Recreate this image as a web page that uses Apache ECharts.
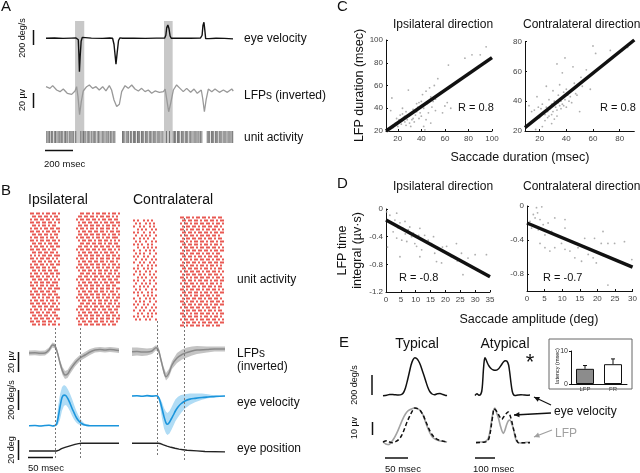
<!DOCTYPE html>
<html>
<head>
<meta charset="utf-8">
<script src="https://cdn.jsdelivr.net/npm/echarts@6/dist/echarts.min.js"></script>
<style>html,body{margin:0;padding:0;background:#fff}#main{width:640px;height:473px}</style>
</head>
<body>
<div id="main"></div>
<script>
// ---- panel A: single trial, t in msec ----
var aVel = [[0,0],[60,3],[120,-2],[180,2],[212,4],[222,30],[228,-20],[232,-200],[236,-445],[241,-250],[248,-40],[256,12],[264,0],[320,2],[400,-2],[450,3],[462,21],[470,0],[480,-80],[488,-230],[494,-347],[502,-200],[512,-30],[522,5],[540,0],[620,2],[700,-1],[780,2],[838,3],[846,40],[852,140],[860,177],[868,130],[876,30],[884,0],[950,2],[1020,0],[1090,3],[1102,40],[1108,170],[1115,213],[1121,110],[1127,-5],[1135,-20],[1150,-5],[1200,0],[1260,-2],[1320,-8]];
var aLfp = [[0,4.4],[28,2.2],[47,5.8],[75,0],[99,-2.2],[122,1.3],[150,-4.4],[181,-5.8],[205,-1.3],[216,4.4],[226,-8.9],[237,-33],[249,-15.6],[263,-1.3],[287,4.4],[306,6.7],[329,2.2],[353,4.4],[376,0],[400,4.4],[423,-1.3],[447,5.8],[463,0],[480,-13.3],[499,-22],[518,-19],[534,-2.2],[558,5.8],[581,2.2],[605,6.7],[628,1.3],[652,-1.3],[675,2.2],[699,-2.2],[722,0],[746,-4.4],[770,-1.3],[800,-3.1],[829,-2.2],[841,1.3],[853,-13.3],[866,-29],[880,-17.8],[899,0],[922,6.7],[946,2.2],[969,-2.2],[993,2.2],[1021,-3.1],[1045,1.3],[1068,-4.4],[1096,0],[1106,-11],[1118,-29],[1130,-13.3],[1146,1.3],[1170,-2.2],[1193,1.3],[1224,-3.1],[1252,0],[1280,-3.1],[1311,1.3],[1322,-1.3]];
var aUnit = [5,14,22,27,38,45,58,66,71,84,92,99,108,115,128,136,141,150,163,170,178,189,196,210,246,262,268,277,290,298,305,318,325,337,344,352,366,372,381,395,402,410,423,431,440,452,458,466,478,486,540,548,557,570,578,584,597,605,618,625,633,646,652,661,674,682,690,703,711,719,732,739,748,760,768,776,789,797,805,818,826,850,872,898,907,915,928,935,944,957,965,973,986,993,1001,1015,1022,1031,1044,1052,1060,1072,1080,1090,1100,1138,1146,1155,1168,1176,1184,1197,1205,1213,1226,1234,1242,1255,1263,1271,1284,1292,1300,1312,1318];
var aShade = [[205,270],[833,894]];

// ---- panel B: averages, t from saccade onset; rows [t, mean, lo, hi] ----
var bIpsiRasterL = ["110110101101101","011011011010110","101101101101011","110110110110101","011010110101100","101101011011011","110110101101101","011011011010110","101101101011010","110101101101101","011011010110110","101101101011011","110110110101100","011011011011010","101010110110111","110101101101010","011011010110101","101101101011011","110110110101100","011010110110110","101101011011011","110110101101010","011011011010101","101101101101110","110101101011010","011011010110111","101101101101100","110110110110110","011010101101011","101101101011010","110110110101101","011011011011010","101101010110111","110110101101100","011011011010110","101101101101011","110110110110100","011010110101101"];
var bIpsiRasterR = ["0011011010110110101101","0110110110101101101010","1011011011010110110110","0101101101101011011011","0110110110110101101101","1011010110101101101010","0101101101101101011011","0110110110110110101101","1011011010110101101110","0101101101011011010101","0011011011011010110110","0110110101101101101011","1011011011010110110101","0101101101101011011010","0110110110110101101101","1011010110101101101011","0101101101101101011010","0110110110110110101101","1011011010110101101011","0101101101011011010110","0011011011011010110101","0110110101101101101011","1011011011010110110110","0101101101101011011011","0110110110110101101100","1011010110101101101011","0101101101101101011010","0110110110110110101101","1011011010110101101011","0101101101011011010110","0011011011011010110101","0110110101101101101011","1011011011010110110110","0101101101101011011010","0110110110110101101101","1011010110101101101011","0101101101101101011010","0110110110110110101100"];
var bContraRasterL = ["101001010100","010100101010","100101001010","001010100101","101001001010","010010101001","100101010010","010100100101","101010010100","001001010101","100100101010","010101001001","101001010010","010010100101","100101001010","001010010101","101001010100","010100101001","100101001010","001010100101","101001001010","010010101001","100101010010","010100100101","101010010100","001001010101","100100101010","010101001001","101001010010","010010100101","100101001010","001010010101","101001010100","010100101001"];
var bContraRasterR = ["1101101011011010110110","0110110110101101101011","1011010110110110101101","0101101101011011011010","1101011011010110110101","0110110101101101011011","1011011010110110110100","0101101101101011010110","1101010110110101101011","0110110110101101011010","1011011010110110110101","0101101101101101011011","1101011011010110101100","0110110101101011011010","1011010110110110101101","0101101101011011011011","1101011010110101101010","0110110110101101010110","1011011011010110110101","0101101101101011011010","1101010110110110101101","0110110101101101011011","1011011010110101101010","0101101101011011010110","1101011011010110110101","0110110110101101011011","1011010110110110101100","0101101101101011011010","1101011010110101101101","0110110101101101011011","1011011011010110110100","0101101101101011010110","1101010110110110101011","0110110110101101011010","1011011010110110110101","0101101101011011011011","1101011011010110101100"];
var bIpsiLfp = [[-52,0,-2.5,2.5],[-40,0.3,-2.2,2.8],[-30,-0.3,-2.8,2.2],[-20,0,-2.5,2.5],[-12,3,0.5,5.5],[-5,8,5.5,10.5],[0,7,4.5,9.5],[5,0,-2.5,2.5],[10,-10,-13,-7],[15,-18,-22,-14],[20,-22,-26,-18],[25,-21,-25,-17],[30,-17,-21,-13],[40,-10,-13.5,-6.5],[50,-5,-8,-2],[60,-2,-5,1],[70,1,-2,4],[80,3,0.5,5.5],[90,3.5,1,6],[100,3,0.5,5.5],[110,3.5,1,6],[120,3,0.5,5.5],[128,2.5,0,5]];
var bContraLfp = [[-50,1.3,-3,5.5],[-40,1.5,-2.5,5.5],[-30,1,-3,5],[-20,1,-2.5,4.5],[-10,2,-1,5],[-2,5.3,2.8,7.8],[3,3,0,6],[8,-7,-10,-4],[13,-17,-20.5,-13.5],[18,-23.7,-27.5,-20],[24,-20,-24,-16],[30,-12,-16,-8],[40,-5,-10,0],[50,-1.5,-6.5,3.5],[60,0.5,-4.5,5.5],[70,2,-2.5,6.5],[80,3,-1,7],[100,3.5,0.5,6.5],[115,4,1.5,6.5],[136,4,1.5,6.5]];
var bIpsiVel = [[-52,0,-3,3],[-40,2,-1,5],[-30,-2,-5,1],[-20,2,-1,5],[-12,4,1,7],[-5,-2,-5,1],[0,2,-1,6],[3,10,0,40],[6,60,10,150],[10,150,50,250],[14,225,120,310],[18,245,160,325],[22,240,165,315],[26,215,145,290],[30,180,115,255],[34,140,80,215],[38,105,50,170],[42,70,28,125],[46,45,14,90],[50,28,6,60],[54,16,2,38],[58,8,0,22],[63,3,-2,12],[70,0,-3,5],[80,0,-3,3],[100,0,-3,3],[128,0,-3,3]];
var bContraVel = [[-50,0,-4,4],[-40,2,-2,6],[-30,-2,-6,2],[-20,3,-1,7],[-10,-1,-5,3],[-2,2,-2,6],[2,-3,-8,1],[6,-40,-80,-15],[10,-100,-180,-50],[14,-165,-260,-95],[18,-215,-300,-125],[21,-226,-312,-136],[25,-210,-300,-120],[29,-180,-270,-90],[33,-150,-235,-55],[37,-118,-200,-25],[42,-88,-170,-5],[48,-62,-135,8],[56,-40,-100,15],[66,-25,-70,20],[76,-19,-50,21],[90,-12,-30,20],[102,-8,-18,15],[118,-3,-8,2],[136,0,-3,3]];
var bIpsiPos = [[-52,0],[3,0],[8,0.9],[13,2.3],[20,3.6],[30,5.2],[40,6.6],[47,7.4],[53,7.8],[128,7.8]];
var bContraPos = [[-50,0],[3,0],[8,-0.5],[13,-1.5],[20,-2.8],[28,-4.0],[36,-5.0],[44,-5.8],[52,-6.4],[60,-7.0],[80,-7.6],[96,-8.2],[136,-8.6]];
var bIpsiMarks = [0, 50];
var bContraMarks = [0, 54];

// ---- panel C / D scatter ----
var cIpsiPts = [[12,20],[14,38],[15,49],[16,23],[18,27],[19,31],[20,24],[21,30],[22,29],[22,34],[23,26],[24,35],[24,40],[25,32],[26,28],[26,33],[27,25],[27,37],[28,30],[29,56],[29,33],[30,27],[31,24],[31,36],[32,30],[33,39],[33,31],[34,28],[35,34],[36,37],[36,44],[37,41],[38,31],[38,45],[39,36],[40,46],[40,33],[41,52],[42,24],[42,40],[43,21],[44,55],[44,30],[45,44],[46,36],[47,58],[48,50],[48,27],[49,41],[50,46],[51,60],[52,48],[52,38],[54,66],[55,52],[58,36],[60,42],[62,45],[63,78],[65,40],[77,84],[83,87],[90,87],[95,94]];
var cContraPts = [[12,37],[14,33],[16,34],[17,21],[18,43],[19,36],[20,29],[21,35],[22,23],[22,38],[23,32],[24,31],[24,27],[25,50],[25,36],[26,29],[26,33],[27,41],[27,30],[28,35],[29,25],[29,31],[29,38],[30,47],[30,33],[31,28],[31,40],[32,36],[33,34],[33,65],[33,30],[34,39],[34,44],[35,37],[35,51],[36,40],[36,35],[37,42],[37,38],[37,59],[38,37],[38,46],[39,69],[39,41],[40,48],[40,36],[41,44],[42,40],[43,43],[44,39],[45,63],[46,52],[47,45],[48,44],[50,33],[51,56],[52,50],[55,61],[58,48],[60,77],[62,72],[73,74],[82,74],[86,76]];
var dIpsiPts = [[0.2,-0.04],[0.5,-0.55],[1.3,-0.09],[2,-0.2],[2.4,-0.33],[3,-0.16],[3.6,-0.06],[3.6,-0.42],[4,-0.27],[4.7,-0.2],[4.7,-0.69],[5.3,-0.45],[5.7,-0.28],[6.4,-0.18],[6.5,-0.36],[7,-0.47],[7.5,-0.3],[8,-0.26],[8.6,-0.4],[9.2,-0.35],[9.7,-0.5],[10.3,-0.54],[11,-0.38],[11.4,-0.28],[11.4,-0.69],[12,-0.59],[12.5,-0.45],[13,-0.38],[14.2,-0.45],[15.3,-0.5],[16,-0.4],[16.4,-0.64],[17,-0.76],[18.7,-0.78],[19,-0.55],[20.4,-0.54],[22,-0.69],[23.7,-0.5],[24,-0.75],[25.4,-0.64],[25.9,-0.95],[27.6,-0.71],[30,-0.66],[33.8,-0.66]];
var dContraPts = [[0.85,-0.18],[1.3,-0.26],[1.8,-0.1],[2.3,-0.14],[2.7,-0.02],[3,-0.08],[3.2,-0.28],[3.7,-0.16],[3.7,-0.44],[4.2,-0.01],[4.6,-0.22],[5.1,-0.34],[5.1,-0.49],[6,-0.2],[6.5,-0.53],[7,-0.3],[7.9,-0.14],[7.9,-0.49],[9.8,-0.44],[10.8,-0.16],[10.8,-0.26],[10.8,-0.51],[12.2,-0.53],[13.6,-0.61],[14.5,-0.49],[15.5,-0.65],[16.4,-0.38],[17.4,-0.57],[18.8,-0.61],[19.2,-0.38],[19.7,-0.67],[21.1,-0.44],[21.6,-0.3],[23,-0.44],[23,-0.93],[24.9,-0.44],[27.7,-0.42],[29.8,-0.63]];
var cIpsiFit = [[10,20],[100,84.5]];
var cContraFit = [[9,22.2],[91,81]];
var dIpsiFit = [[0,-0.16],[35,-0.98]];
var dContraFit = [[0,-0.2],[30,-0.72]];
var cIpsiTicks = [20,40,60,80,100];
var cContraTicksX = [20,40,60,80];
var cContraTicksY = [20,40,60,80];
var dIpsiTicksX = [0,5,10,15,20,25,30,35];
var dIpsiTicksY = [0,-0.4,-0.8,-1.2];
var dContraTicksX = [0,5,10,15,20,25,30];
var dContraTicksY = [0,-0.4,-0.8];

// ---- panel E ----
var eTypVel = [[0,-8],[8,-2],[14,6],[24,3],[33,0],[40,6],[44,25],[48,70],[52,140],[56,220],[60,300],[64,352],[68,373],[72,365],[76,340],[80,300],[84,245],[88,190],[92,130],[96,75],[100,35],[105,10],[110,3],[116,12],[122,16],[128,5],[134,-4],[137,-6]];
var eAtyVel = [[0,-5],[10,12],[20,-3],[28,5],[34,40],[38,120],[42,250],[46,340],[50,373],[55,355],[62,320],[70,290],[80,265],[92,250],[105,248],[118,262],[130,295],[142,330],[152,342],[160,338],[168,300],[174,220],[180,120],[186,40],[192,5],[200,-5],[215,0],[230,3],[245,0],[260,-2],[275,0]];
var eTypLfp = [[0,0],[6,-1.5],[12,-2],[18,0],[24,3],[30,7],[36,12],[42,17],[48,21],[54,23.5],[62,25],[68,25.5],[74,25],[80,23.5],[86,20],[90,16],[95,11],[100,7],[106,3.5],[112,2],[120,1],[128,0.5],[137,0]];
var eTypVelN = [[0,0],[8,1],[14,0],[20,-0.5],[28,0.5],[34,2],[40,5],[46,10],[52,15.5],[58,20],[64,24],[68,25.5],[74,25],[80,23.5],[86,20],[92,15],[98,10],[104,6],[110,3.5],[116,2],[124,1],[130,0.5],[137,0]];
var eAtyLfp = [[0,0],[40,0],[53,1],[62,3],[70,8],[78,16],[87,23.5],[95,25.5],[103,22],[112,18],[124,11],[137,6.5],[145,9],[153,13],[162,16],[170,16.5],[178,14],[187,10],[195,4],[203,0.5],[215,-0.5],[228,-0.8],[250,-0.3],[270,0]];
var eAtyVelN = [[0,-0.5],[45,0],[60,1],[70,6],[79,15],[85,21],[90,25],[98,24],[107,22],[118,19],[129,17],[137,18.5],[145,20],[155,22],[162,22.5],[170,20],[179,15.5],[187,10],[195,5.5],[203,1.5],[212,-0.5],[245,-0.5],[270,-0.5]];
var eLatCats = ['LFP', 'FR'];
var eLatMean = [4.6, 6.0];
var eLatErr = [1.0, 1.6];

var FONT = '"Liberation Sans", Arial, sans-serif';
var grids = [], xAxes = [], yAxes = [], series = [];

function addGrid(box, xr, yr, inv) {
    var i = grids.length;
    grids.push({left: box[0], top: box[1], width: box[2], height: box[3]});
    xAxes.push({type: 'value', gridIndex: i, min: xr[0], max: xr[1], show: false});
    yAxes.push({type: 'value', gridIndex: i, min: yr[0], max: yr[1], show: false, inverse: !!inv});
    return i;
}
function line(gi, data, color, width, extra) {
    var s = {type: 'line', xAxisIndex: gi, yAxisIndex: gi, data: data, symbol: 'none', silent: true, z: 3,
        lineStyle: {color: color, width: width}};
    if (extra) Object.assign(s, extra);
    series.push(s);
}
function band(gi, rows, color) {
    series.push({
        type: 'custom', xAxisIndex: gi, yAxisIndex: gi, silent: true, z: 2,
        data: [[rows[0][0], rows[0][1]]],
        renderItem: function (params, api) {
            var pts = [];
            rows.forEach(function (r) { pts.push(api.coord([r[0], r[3]])); });
            rows.slice().reverse().forEach(function (r) { pts.push(api.coord([r[0], r[2]])); });
            return {type: 'polygon', shape: {points: pts}, style: {fill: color}};
        }
    });
}
function raster(gi, rows, t0, dt, rowStart) {
    var pts = [];
    rows.forEach(function (r, i) {
        for (var k = 0; k < r.length; k++) {
            if (r[k] === '1') pts.push([t0 + dt * k + dt / 2, rowStart + i + 0.5]);
        }
    });
    series.push({type: 'scatter', xAxisIndex: gi, yAxisIndex: gi, data: pts, symbol: 'rect',
        symbolSize: [1.8, 2.2], itemStyle: {color: '#e01810'}, silent: true, clip: false});
}
function vmarks(gi, vals) {
    series.push({type: 'line', xAxisIndex: gi, yAxisIndex: gi, data: [], z: 1,
        markLine: {silent: true, symbol: 'none', label: {show: false},
            lineStyle: {color: '#777', type: [2, 2], width: 1},
            data: vals.map(function (v) { return {xAxis: v}; })}});
}
function sciAxes(gi, xv, yv) {
    var common = {show: true, splitLine: {show: false},
        axisLine: {show: true, onZero: false, lineStyle: {color: '#111', width: 1}}};
    Object.assign(xAxes[gi], common, {
        axisTick: {show: true, inside: true, length: 2, customValues: xv, lineStyle: {color: '#111'}},
        axisLabel: {show: true, customValues: xv, fontSize: 8, color: '#444', margin: 4, fontFamily: FONT}});
    Object.assign(yAxes[gi], common, {
        axisTick: {show: true, inside: true, length: 2, customValues: yv, lineStyle: {color: '#111'}},
        axisLabel: {show: true, customValues: yv, fontSize: 8, color: '#444', margin: 3, fontFamily: FONT}});
}
function scat(gi, pts) {
    series.push({type: 'scatter', xAxisIndex: gi, yAxisIndex: gi, data: pts, symbolSize: 1.8,
        itemStyle: {color: '#9a9a9a'}, silent: true, clip: false});
}

// A
var gA0 = addGrid([46, 21, 187, 122], [0, 1320], [0, 1]);
series.push({type: 'line', xAxisIndex: gA0, yAxisIndex: gA0, data: [], z: 1,
    markArea: {silent: true, itemStyle: {color: '#c8c8c8'},
        data: aShade.map(function (s) { return [{xAxis: s[0]}, {xAxis: s[1]}]; })}});
var gA1 = addGrid([46, 21, 187, 54.75], [0, 1320], [-500, 230]);
line(gA1, aVel, '#111', 1.4);
var gA2 = addGrid([46, 80, 187, 40], [0, 1320], [-40, 13.33]);
line(gA2, aLfp, '#999', 1.3);
var gA3 = addGrid([46, 131, 187, 12], [0, 1320], [0, 1]);
series.push({type: 'scatter', xAxisIndex: gA3, yAxisIndex: gA3, symbol: 'rect', symbolSize: [1, 12],
    data: aUnit.map(function (t) { return [t, 0.5]; }), itemStyle: {color: '#555'}, silent: true});

// B
var gBr1 = addGrid([29, 212, 90, 114], [-52, 128], [0, 38], true);
raster(gBr1, bIpsiRasterL, -50, 4, 0);
raster(gBr1, bIpsiRasterR, 42, 4, 0);
var gBr2 = addGrid([132, 216, 93, 111], [-50, 136], [0, 37], true);
raster(gBr2, bContraRasterL, -48, 4, 1);
raster(gBr2, bContraRasterR, 46, 4, 0);
vmarks(addGrid([29, 326, 90, 132], [-52, 128], [0, 1]), bIpsiMarks);
vmarks(addGrid([132, 320, 93, 135], [-50, 136], [0, 1]), [bContraMarks[0]]);
vmarks(addGrid([132, 216, 93, 244], [-50, 136], [0, 1]), [bContraMarks[1]]);
var gBl1 = addGrid([29, 338, 90, 45], [-52, 128], [-30, 15]);
band(gBl1, bIpsiLfp, '#c4c4c4');
line(gBl1, bIpsiLfp.map(function (r) { return [r[0], r[1]]; }), '#8a8a8a', 1.5, {smooth: 0.3});
var gBl2 = addGrid([132, 338, 93, 45], [-50, 136], [-30, 15]);
band(gBl2, bContraLfp, '#c4c4c4');
line(gBl2, bContraLfp.map(function (r) { return [r[0], r[1]]; }), '#8a8a8a', 1.5, {smooth: 0.3});
var gBv1 = addGrid([29, 382, 90, 58.1], [-52, 128], [-115, 350]);
band(gBv1, bIpsiVel, '#b0dcf5');
line(gBv1, bIpsiVel.map(function (r) { return [r[0], r[1]]; }), '#1b95dc', 1.6, {smooth: 0.3});
var gBv2 = addGrid([132, 383.5, 93, 56.25], [-50, 136], [-350, 100]);
band(gBv2, bContraVel, '#b0dcf5');
line(gBv2, bContraVel.map(function (r) { return [r[0], r[1]]; }), '#1b95dc', 1.6, {smooth: 0.3});
line(addGrid([29, 436, 90, 20], [-52, 128], [-5, 15]), bIpsiPos, '#222', 1.4);
line(addGrid([132, 436, 93, 20], [-50, 136], [-12.7, 7.3]), bContraPos, '#222', 1.4);

// C
var gC1 = addGrid([386, 40, 106, 91], [10, 100], [20, 100]);
sciAxes(gC1, cIpsiTicks, cIpsiTicks);
Object.assign(yAxes[gC1], {name: 'LFP duration (msec)', nameLocation: 'middle', nameRotate: 90, nameGap: 18,
    nameTextStyle: {fontSize: 12.5, color: '#111', fontFamily: FONT}});
scat(gC1, cIpsiPts);
line(gC1, cIpsiFit, '#111', 3.5, {clip: false});
var gC2 = addGrid([525, 41.5, 109.3, 89.5], [9, 91], [20, 80]);
sciAxes(gC2, cContraTicksX, cContraTicksY);
scat(gC2, cContraPts);
line(gC2, cContraFit, '#111', 3.5, {clip: false});

// D
var gD1 = addGrid([386, 209, 104, 83], [0, 35], [-1.2, 0]);
sciAxes(gD1, dIpsiTicksX, dIpsiTicksY);
Object.assign(yAxes[gD1], {name: 'LFP time\nintegral (µv·s)', nameLocation: 'middle', nameRotate: 90, nameGap: 20,
    nameTextStyle: {fontSize: 12.5, color: '#111', fontFamily: FONT, lineHeight: 15}});
scat(gD1, dIpsiPts);
line(gD1, dIpsiFit, '#111', 3.5, {clip: false});
var gD2 = addGrid([527, 206, 106, 85], [0, 30], [-1, 0]);
sciAxes(gD2, dContraTicksX, dContraTicksY);
scat(gD2, dContraPts);
line(gD2, dContraFit, '#111', 3.5, {clip: false});

// E
line(addGrid([383, 355, 65, 42], [0, 139], [-20, 400]), eTypVel, '#111', 1.5, {smooth: 0.3});
line(addGrid([475, 355, 55, 42], [0, 275], [-20, 400]), eAtyVel, '#111', 1.5, {smooth: 0.3});
var gE3 = addGrid([383, 405, 65, 40], [0, 139], [-2.25, 27.75]);
line(gE3, eTypLfp, '#a3a3a3', 1.6, {smooth: 0.3});
line(gE3, eTypVelN, '#111', 1.5, {smooth: 0.3, lineStyle: {color: '#111', width: 1.5, type: [4, 2.5]}});
var gE4 = addGrid([476, 405, 54, 40], [0, 270], [-2.25, 27.75]);
line(gE4, eAtyLfp, '#a3a3a3', 1.6, {smooth: 0.3});
line(gE4, eAtyVelN, '#111', 1.5, {smooth: 0.3, lineStyle: {color: '#111', width: 1.5, type: [4, 2.5]}});

// E inset (bar chart)
var gi = grids.length;
grids.push({left: 571, top: 351, width: 56, height: 33});
xAxes.push({type: 'category', gridIndex: gi, data: eLatCats,
    axisLine: {lineStyle: {color: '#111'}}, axisTick: {show: false},
    axisLabel: {fontSize: 6, color: '#333', margin: 2, fontFamily: FONT}});
yAxes.push({type: 'value', gridIndex: gi, min: 0, max: 10, interval: 10, splitLine: {show: false},
    axisLine: {show: true, lineStyle: {color: '#111'}}, axisTick: {show: true, length: 2},
    axisLabel: {fontSize: 7, color: '#333', margin: 3, fontFamily: FONT}});
series.push({type: 'bar', xAxisIndex: gi, yAxisIndex: gi, barWidth: 18, silent: true,
    data: eLatMean.map(function (v, i) {
        return {value: v, itemStyle: {color: i === 0 ? '#8c8c8c' : '#fff', borderColor: '#111', borderWidth: 1}};
    })});
series.push({type: 'custom', xAxisIndex: gi, yAxisIndex: gi, silent: true, z: 5,
    data: eLatMean.map(function (m, i) { return [i, m, eLatErr[i]]; }),
    renderItem: function (params, api) {
        var x = api.value(0), m = api.value(1), e = api.value(2);
        var a = api.coord([x, m]), b = api.coord([x, m + e]);
        return {type: 'group', children: [
            {type: 'line', shape: {x1: a[0], y1: a[1], x2: b[0], y2: b[1]}, style: {stroke: '#111', lineWidth: 1}},
            {type: 'line', shape: {x1: b[0] - 2, y1: b[1], x2: b[0] + 2, y2: b[1]}, style: {stroke: '#111', lineWidth: 1}}
        ]};
    }});

// labels, scale bars, arrows
function txt(x, y, s, size, opt) {
    opt = opt || {};
    return {type: 'text', x: x, y: y, rotation: opt.rot || 0, z: 100, silent: true,
        style: {text: s, fill: opt.color || '#111', font: (opt.weight || 'normal') + ' ' + size + 'px ' + FONT,
            textAlign: opt.align || 'left', textVerticalAlign: opt.valign || 'middle'}};
}
function sbar(x1, y1, x2, y2) {
    return {type: 'line', z: 100, silent: true, shape: {x1: x1, y1: y1, x2: x2, y2: y2}, style: {stroke: '#111', lineWidth: 1.5}};
}
function arrow(x1, y1, x2, y2, color) {
    var a = Math.atan2(y2 - y1, x2 - x1), h = 6;
    return [
        {type: 'line', z: 100, silent: true, shape: {x1: x1, y1: y1, x2: x2, y2: y2}, style: {stroke: color, lineWidth: 1.3}},
        {type: 'polygon', z: 100, silent: true, shape: {points: [[x2, y2],
            [x2 - h * Math.cos(a - 0.45), y2 - h * Math.sin(a - 0.45)],
            [x2 - h * Math.cos(a + 0.45), y2 - h * Math.sin(a + 0.45)]]}, style: {fill: color}}
    ];
}
var R = Math.PI / 2;
var els = [
    txt(1, 7, 'A', 15), txt(1, 191, 'B', 15), txt(337, 7, 'C', 15), txt(337, 184, 'D', 15), txt(339, 343, 'E', 15),
    txt(244, 39, 'eye velocity', 12), txt(244, 96, 'LFPs (inverted)', 12), txt(244, 138, 'unit activity', 12),
    txt(23, 38, '200 deg/s', 9, {rot: R, align: 'center'}), txt(23, 100, '20 µv', 9, {rot: R, align: 'center'}),
    txt(44, 164, '200 msec', 9.5),
    sbar(33.5, 30, 33.5, 45), sbar(33.5, 93, 33.5, 108), sbar(45, 150.5, 73, 150.5),
    txt(28, 200, 'Ipsilateral', 14), txt(133, 200, 'Contralateral', 14),
    txt(237, 280, 'unit activity', 12), txt(237, 354, 'LFPs', 12), txt(237, 367, '(inverted)', 12),
    txt(237, 403, 'eye velocity', 12), txt(237, 449, 'eye position', 12),
    txt(12, 362, '20 µv', 9, {rot: R, align: 'center'}), txt(12, 400, '200 deg/s', 9, {rot: R, align: 'center'}),
    txt(12, 450, '20 deg', 9, {rot: R, align: 'center'}), txt(28, 468, '50 msec', 9.5),
    sbar(18.5, 352, 18.5, 372), sbar(18.5, 390, 18.5, 410), sbar(18.5, 440, 18.5, 460), sbar(28, 457.5, 53, 457.5),
    txt(393, 25, 'Ipsilateral direction', 12), txt(523, 25, 'Contralateral direction', 12),
    txt(520, 158, 'Saccade duration (msec)', 12.5, {align: 'center'}),
    txt(458, 108, 'R = 0.8', 11), txt(600, 108, 'R = 0.8', 11),
    txt(393, 187, 'Ipsilateral direction', 12), txt(523, 187, 'Contralateral direction', 12),
    txt(529, 320, 'Saccade amplitude (deg)', 12.5, {align: 'center'}),
    txt(399, 278, 'R = -0.8', 11), txt(543, 278, 'R = -0.7', 11),
    txt(417, 344, 'Typical', 14, {align: 'center'}), txt(505, 344, 'Atypical', 14, {align: 'center'}),
    txt(530, 363, '*', 22, {align: 'center'}),
    txt(355, 385, '200 deg/s', 9, {rot: R, align: 'center'}), txt(355, 428, '10 µv', 9, {rot: R, align: 'center'}),
    sbar(372, 375, 372, 395), sbar(372.5, 422, 372.5, 435), sbar(385, 458, 408, 458), sbar(475, 458, 495, 458),
    txt(385, 469, '50 msec', 9.5), txt(473, 469, '100 msec', 9.5),
    txt(554, 412, 'eye velocity', 12), txt(555, 434, 'LFP', 12, {color: '#a0a0a0'}),
    txt(557, 366, 'latency (msec)', 5.5, {rot: R, align: 'center'}),
    {type: 'rect', z: 90, silent: true, shape: {x: 549, y: 339, width: 83, height: 50}, style: {fill: 'none', stroke: '#666', lineWidth: 1}}
];
els = els.concat(arrow(551, 405, 534, 397, '#111'), arrow(551, 413, 514, 415, '#111'), arrow(552, 430, 534, 437, '#a0a0a0'));

var chart = echarts.init(document.getElementById('main'), null, {renderer: 'canvas'});
chart.setOption({
    animation: false,
    backgroundColor: '#fff',
    textStyle: {fontFamily: FONT},
    grid: grids,
    xAxis: xAxes,
    yAxis: yAxes,
    series: series,
    graphic: {elements: els}
});
</script>
</body>
</html>
